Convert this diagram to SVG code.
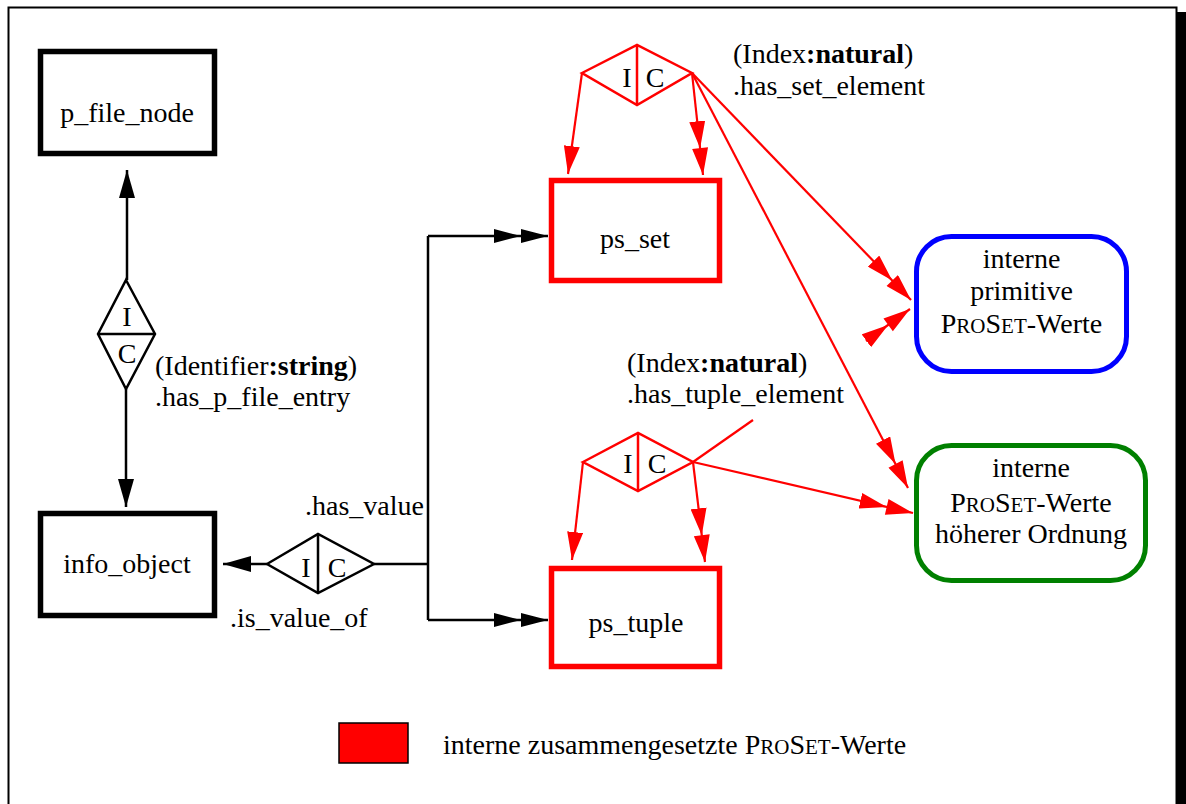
<svg xmlns="http://www.w3.org/2000/svg" width="1186" height="804" viewBox="0 0 1186 804">
  <style>
    text { font-family: "Liberation Serif", "Times New Roman", serif; font-size: 28px; fill: #000; }
    .mid { text-anchor: middle; }
    .sc { font-size: 21px; }
    .b { font-weight: bold; }
    .box { fill: #fff; stroke: #000; stroke-width: 5.5; }
    .rbox { fill: #fff; stroke: #ff0000; stroke-width: 5.5; }
    .blue { fill: #fff; stroke: #0000ff; stroke-width: 5; }
    .green { fill: #fff; stroke: #008000; stroke-width: 5; }
    .dia { fill: #fff; stroke: #000; stroke-width: 2.5; stroke-linejoin: miter; }
    .rdia { fill: #fff; stroke: #ff0000; stroke-width: 2.5; }
    .ln { fill: none; stroke: #000; stroke-width: 2.5; }
    .rln { fill: none; stroke: #ff0000; stroke-width: 2.2; }
  </style>
  <defs>
    <marker id="a1k" markerUnits="userSpaceOnUse" markerWidth="28" markerHeight="16" refX="28" refY="8" orient="auto" viewBox="0 0 28 16">
      <path d="M0,0 L28,8 L0,16 Z" fill="#000"/>
    </marker>
    <marker id="a2k" markerUnits="userSpaceOnUse" markerWidth="54" markerHeight="14" refX="54" refY="7" orient="auto" viewBox="0 0 54 14">
      <path d="M0,0 L27,7 L0,14 Z M27,0 L54,7 L27,14 Z" fill="#000"/>
    </marker>
    <marker id="a1r" markerUnits="userSpaceOnUse" markerWidth="28" markerHeight="16" refX="28" refY="8" orient="auto" viewBox="0 0 28 16">
      <path d="M0,0 L28,8 L0,16 Z" fill="#ff0000"/>
    </marker>
    <marker id="a2r" markerUnits="userSpaceOnUse" markerWidth="54" markerHeight="16" refX="54" refY="8" orient="auto" viewBox="0 0 54 16">
      <path d="M0,0 L27,8 L0,16 Z M27,0 L54,8 L27,16 Z" fill="#ff0000"/>
    </marker>
  </defs>

  <!-- page frame with drop shadow -->
  <rect x="0" y="0" width="1186" height="804" fill="#fff"/>
  <rect x="1177" y="12" width="9" height="792" fill="#000"/>
  <rect x="8.5" y="7.5" width="1168" height="810" fill="none" stroke="#000" stroke-width="2"/>

  <!-- connectors -->
  <g id="connectors">
    <!-- p_file_node / info_object relation -->
    <path class="ln" d="M127,280 L127,170" marker-end="url(#a1k)"/>
    <path class="ln" d="M126,389 L126,507" marker-end="url(#a1k)"/>
    <!-- has_value relation -->
    <path class="ln" d="M267,564 L223,564" marker-end="url(#a1k)"/>
    <path class="ln" d="M374,564 L428,564"/>
    <path class="ln" d="M428,620 L428,236"/>
    <path class="ln" d="M428,236 L548,236" marker-end="url(#a2k)"/>
    <path class="ln" d="M428,620 L548,620" marker-end="url(#a2k)"/>
    <!-- has_set_element relation -->
    <path class="rln" d="M582,73 L568,174" marker-end="url(#a1r)"/>
    <path class="rln" d="M692,73 L703,175" marker-end="url(#a2r)"/>
    <path class="rln" d="M692,73 L911,300" marker-end="url(#a2r)"/>
    <path class="rln" d="M692,73 L908,488" marker-end="url(#a2r)"/>
    <!-- has_tuple_element relation -->
    <path class="rln" d="M583,462 L572,560" marker-end="url(#a1r)"/>
    <path class="rln" d="M693,462 L705,562" marker-end="url(#a2r)"/>
    <path class="rln" d="M693,462 L913,513" marker-end="url(#a2r)"/>
    <path class="rln" d="M693,462 L753,420"/>
    <path class="rln" d="M866,341 L910,309" marker-end="url(#a2r)"/>
  </g>

  <!-- entity nodes -->
  <g id="p_file_node">
    <rect class="box" x="40.5" y="51.5" width="174" height="102"/>
    <text class="mid" x="127" y="122">p_file_node</text>
  </g>
  <g id="info_object">
    <rect class="box" x="40.5" y="513.5" width="174" height="102"/>
    <text class="mid" x="127" y="573">info_object</text>
  </g>
  <g id="ps_set">
    <rect class="rbox" x="551.5" y="180.5" width="168" height="100"/>
    <text class="mid" x="635" y="248">ps_set</text>
  </g>
  <g id="ps_tuple">
    <rect class="rbox" x="551.5" y="568.5" width="168" height="98"/>
    <text class="mid" x="636" y="632">ps_tuple</text>
  </g>
  <g id="primitive_values">
    <rect class="blue" x="916.5" y="236.5" width="210" height="135" rx="35" ry="35"/>
    <text class="mid" x="1021.5" y="268">interne</text>
    <text class="mid" x="1021.5" y="300">primitive</text>
    <text class="mid" x="1021.5" y="333">P<tspan class="sc">RO</tspan>S<tspan class="sc">ET</tspan>-Werte</text>
  </g>
  <g id="higher_order_values">
    <rect class="green" x="916.5" y="445.5" width="229" height="135" rx="35" ry="35"/>
    <text class="mid" x="1031" y="477">interne</text>
    <text class="mid" x="1031" y="512">P<tspan class="sc">RO</tspan>S<tspan class="sc">ET</tspan>-Werte</text>
    <text class="mid" x="1031" y="543">höherer Ordnung</text>
  </g>

  <!-- relationship diamonds -->
  <g id="rel_p_file_entry">
    <path class="dia" d="M126,280 L155,334 L126,389 L98,334 Z M98,334 L155,334"/>
    <text class="mid" x="127" y="326">I</text>
    <text class="mid" x="127" y="363">C</text>
    <text x="155" y="375">(Identifier<tspan class="b">:string</tspan>)</text>
    <text x="155" y="406">.has_p_file_entry</text>
  </g>
  <g id="rel_has_value">
    <path class="dia" d="M267,564 L318,534 L374,564 L318,593 Z M318,534 L318,593"/>
    <text class="mid" x="306" y="577">I</text>
    <text class="mid" x="337" y="577">C</text>
    <text x="305" y="515">.has_value</text>
    <text x="230" y="627">.is_value_of</text>
  </g>
  <g id="rel_set_element">
    <path class="rdia" d="M582,73 L637,45 L692,73 L637,105 Z M637,45 L637,105"/>
    <text class="mid" x="627" y="87">I</text>
    <text class="mid" x="655" y="87">C</text>
    <text x="733" y="63">(Index<tspan class="b">:natural</tspan>)</text>
    <text x="733" y="95">.has_set_element</text>
  </g>
  <g id="rel_tuple_element">
    <path class="rdia" d="M583,462 L638,433 L693,462 L638,491 Z M638,433 L638,491"/>
    <text class="mid" x="628" y="473">I</text>
    <text class="mid" x="657" y="473">C</text>
    <text x="627" y="372">(Index<tspan class="b">:natural</tspan>)</text>
    <text x="627" y="403">.has_tuple_element</text>
  </g>

  <!-- legend -->
  <g id="legend">
    <rect x="339" y="723" width="69" height="40" fill="#ff0000" stroke="#000" stroke-width="1.5"/>
    <text x="443" y="754">interne zusammengesetzte P<tspan class="sc">RO</tspan>S<tspan class="sc">ET</tspan>-Werte</text>
  </g>
</svg>
